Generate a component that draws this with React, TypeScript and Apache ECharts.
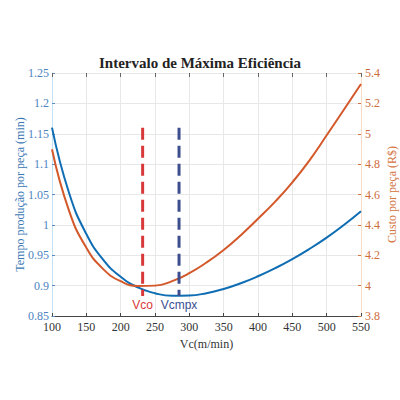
import React, { useEffect, useRef } from "react";
import * as echarts from "echarts";

const velocidades = [100, 125, 150, 175, 200, 225, 250, 275, 300, 325, 350, 375, 400, 425, 450, 475, 500, 525, 550];
const tempo = [1.16, 1.052, 0.985, 0.942, 0.9145, 0.897, 0.8874, 0.8833, 0.8837, 0.8876, 0.8945, 0.9039, 0.9154, 0.9287, 0.9437, 0.9605, 0.9791, 0.9998, 1.0225];
const custo = [4.898, 4.491, 4.25, 4.107, 4.029, 3.998, 4.0, 4.03, 4.082, 4.152, 4.235, 4.332, 4.44, 4.553, 4.68, 4.825, 4.99, 5.158, 5.328];
const vcoX = 232;
const vcmpxX = 285;
const linhaTopo = 1.16;
const linhaBase = 0.883;

export default function App() {
  const ref = useRef<HTMLDivElement>(null);
  useEffect(() => {
    if (!ref.current) return;
    document.body.style.margin = "0";
    const chart = echarts.init(ref.current, null, { renderer: "svg" });
    const serif = "Liberation Serif";
    chart.setOption({
      animation: false,
      backgroundColor: "#ffffff",
      title: {
        text: "Intervalo de Máxima Eficiência",
        left: "center",
        top: 50,
        textStyle: { fontFamily: serif, fontWeight: "bold", fontSize: 15, color: "#222" },
      },
      grid: { left: 52, right: 39, top: 73, bottom: 84, containLabel: false, outerBoundsMode: "none" },
      xAxis: [
        {
          type: "value",
          min: 100,
          max: 550,
          interval: 50,
          name: "Vc(m/min)",
          nameLocation: "middle",
          nameGap: 22,
          nameMoveOverlap: false,
          nameTextStyle: { fontFamily: serif, fontSize: 12, color: "#333" },
          axisLine: { show: true, lineStyle: { color: "#444", width: 1 } },
          axisTick: { show: true, inside: true, length: 3, lineStyle: { color: "#444" } },
          axisLabel: { fontFamily: serif, fontSize: 12, color: "#333", margin: 5 },
          splitLine: { show: true, lineStyle: { color: "#e8e8e8" } },
        },
        {
          type: "value",
          position: "top",
          min: 100,
          max: 550,
          interval: 50,
          axisLine: { show: false },
          axisTick: { show: true, inside: true, length: 4, lineStyle: { color: "#666" } },
          axisLabel: { show: false },
          splitLine: { show: false },
        },
      ],
      yAxis: [
        {
          type: "value",
          min: 0.85,
          max: 1.25,
          interval: 0.05,
          position: "left",
          name: "Tempo produção por peça (min)",
          nameLocation: "middle",
          nameRotate: 90,
          nameGap: 26,
          nameMoveOverlap: false,
          nameTextStyle: { fontFamily: serif, fontSize: 12, color: "#3a78b5" },
          axisLine: { show: true, lineStyle: { color: "#c3e3f4", width: 1 } },
          axisTick: { show: true, inside: true, length: 3, lineStyle: { color: "#5b8ec4" } },
          axisLabel: { fontFamily: serif, fontSize: 12, color: "#4d84bf", margin: 3 },
          splitLine: { show: true, lineStyle: { color: "#e8e8e8" } },
        },
        {
          type: "value",
          min: 3.8,
          max: 5.4,
          interval: 0.2,
          position: "right",
          name: "Custo por peça (R$)",
          nameLocation: "middle",
          nameRotate: 90,
          nameGap: 25,
          nameMoveOverlap: false,
          nameTextStyle: { fontFamily: serif, fontSize: 12, color: "#d4743f" },
          axisLine: { show: true, lineStyle: { color: "#f8dcc6", width: 1 } },
          axisTick: { show: true, inside: true, length: 3, lineStyle: { color: "#d4743f" } },
          axisLabel: { fontFamily: serif, fontSize: 12, color: "#cd6c3c", margin: 4 },
          splitLine: { show: false },
        },
      ],
      series: [
        {
          type: "line",
          name: "Tempo",
          xAxisIndex: 0,
          yAxisIndex: 0,
          smooth: true,
          showSymbol: false,
          data: velocidades.map((v, i) => [v, tempo[i]]),
          lineStyle: { color: "#0f6db3", width: 2 },
          z: 3,
        },
        {
          type: "line",
          name: "Custo",
          xAxisIndex: 0,
          yAxisIndex: 1,
          smooth: true,
          showSymbol: false,
          data: velocidades.map((v, i) => [v, custo[i]]),
          lineStyle: { color: "#d3582a", width: 2 },
          z: 3,
        },
        {
          type: "line",
          name: "Vco",
          xAxisIndex: 0,
          yAxisIndex: 0,
          symbol: "circle",
          symbolSize: 0,
          data: [
            [vcoX, linhaTopo],
            {
              value: [vcoX, linhaBase],
              label: {
                show: true,
                position: "bottom",
                distance: 3,
                formatter: "Vco",
                fontFamily: "Liberation Sans",
                fontSize: 12,
                color: "#d9383a",
              },
            },
          ],
          lineStyle: { color: "#d9383a", width: 3, type: [12, 6] },
          z: 4,
        },
        {
          type: "line",
          name: "Vcmpx",
          xAxisIndex: 0,
          yAxisIndex: 0,
          symbol: "circle",
          symbolSize: 0,
          data: [
            [vcmpxX, linhaTopo],
            {
              value: [vcmpxX, linhaBase],
              label: {
                show: true,
                position: "bottom",
                distance: 3,
                formatter: "Vcmpx",
                fontFamily: "Liberation Sans",
                fontSize: 12,
                color: "#3b4f93",
              },
            },
          ],
          lineStyle: { color: "#3c4e8e", width: 3, type: [12, 6] },
          z: 4,
        },
      ],
    });
    return () => chart.dispose();
  }, []);
  return <div ref={ref} style={{ position: "fixed", left: 0, top: 0, width: 400, height: 400 }} />;
}
